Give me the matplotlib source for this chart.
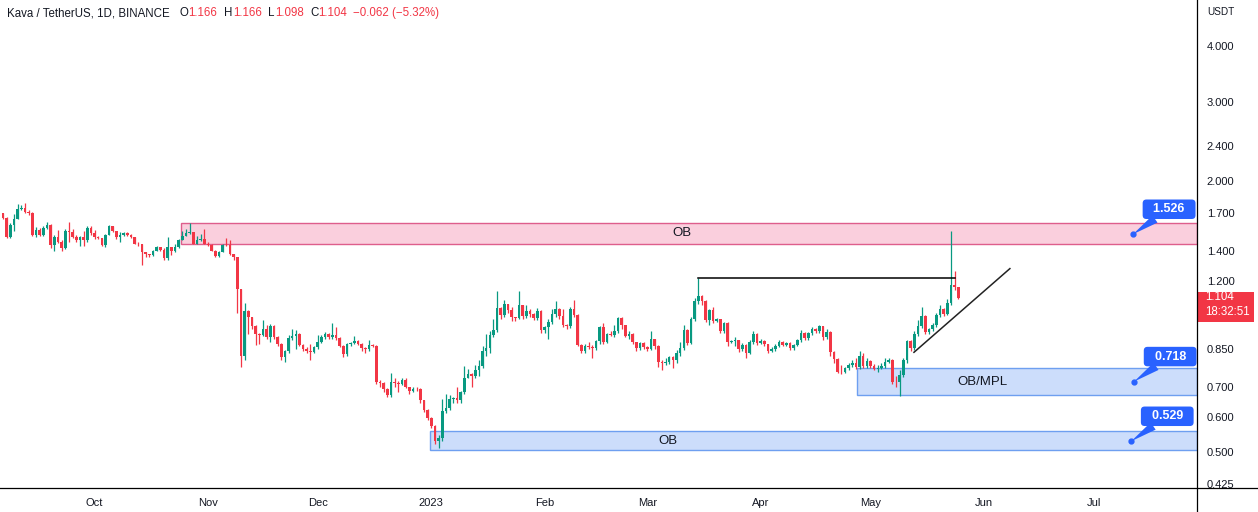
import numpy as np
import pandas as pd
import matplotlib
matplotlib.use("Agg")
import matplotlib.pyplot as plt
import matplotlib.dates as mdates
import matplotlib.transforms as mtransforms
from matplotlib.lines import Line2D
from matplotlib.patches import Rectangle
from matplotlib.ticker import NullLocator, NullFormatter

plt.rcParams['font.family'] = ['Liberation Sans', 'DejaVu Sans']

# --- daily KAVA/USDT candles ---
first_day = "2022-09-06"
first_open = 1.697
closes = [
    1.662, 1.508, 1.604, 1.654, 1.740, 1.745, 1.714, 1.705, 1.524, 1.563,
    1.524, 1.579, 1.604, 1.448, 1.501, 1.470, 1.419, 1.555, 1.540, 1.508,
    1.485, 1.508, 1.478, 1.579, 1.532, 1.501, 1.497, 1.441, 1.524, 1.588,
    1.548, 1.501, 1.524, 1.532, 1.524, 1.501, 1.455, 1.450, 1.390, 1.376,
    1.369, 1.404, 1.426, 1.411, 1.348, 1.426, 1.404, 1.433, 1.485, 1.516,
    1.532, 1.540, 1.455, 1.485, 1.493, 1.455, 1.448, 1.404, 1.362, 1.397,
    1.448, 1.441, 1.376, 1.355, 1.151, 0.817, 1.029, 0.997, 0.952, 0.914,
    0.909, 0.942, 0.900, 0.952, 0.900, 0.869, 0.813, 0.839, 0.896, 0.905,
    0.914, 0.865, 0.847, 0.839, 0.837, 0.856, 0.878, 0.900, 0.914, 0.900,
    0.909, 0.896, 0.860, 0.826, 0.869, 0.873, 0.882, 0.869, 0.851, 0.847,
    0.865, 0.860, 0.718, 0.711, 0.690, 0.669, 0.718, 0.711, 0.709, 0.722,
    0.700, 0.683, 0.693, 0.691, 0.652, 0.620, 0.595, 0.572, 0.530, 0.538,
    0.617, 0.626, 0.656, 0.659, 0.652, 0.680, 0.733, 0.745, 0.737, 0.760,
    0.776, 0.839, 0.851, 0.909, 0.933, 1.044, 1.008, 1.066, 1.034, 0.997,
    0.992, 1.060, 1.003, 1.029, 1.013, 0.992, 1.029, 0.933, 0.947, 0.972,
    1.013, 1.039, 1.003, 0.957, 0.952, 1.039, 1.008, 0.865, 0.839, 0.860,
    0.858, 0.851, 0.882, 0.947, 0.878, 0.914, 0.912, 0.928, 0.992, 0.957,
    0.905, 0.914, 0.878, 0.851, 0.873, 0.856, 0.847, 0.891, 0.860, 0.792,
    0.788, 0.792, 0.813, 0.800, 0.830, 0.851, 0.933, 0.873, 0.987, 1.082,
    1.110, 1.082, 0.982, 1.034, 0.977, 0.987, 0.928, 0.967, 0.878, 0.882,
    0.887, 0.847, 0.865, 0.830, 0.878, 0.914, 0.873, 0.882, 0.869, 0.839,
    0.847, 0.860, 0.878, 0.865, 0.873, 0.851, 0.865, 0.887, 0.919, 0.896,
    0.919, 0.938, 0.928, 0.952, 0.900, 0.923, 0.834, 0.804, 0.756, 0.754,
    0.768, 0.780, 0.788, 0.772, 0.817, 0.776, 0.796, 0.776, 0.764, 0.768,
    0.776, 0.792, 0.800, 0.718, 0.715, 0.741, 0.800, 0.882, 0.851, 0.914,
    0.952, 1.003, 0.923, 0.938, 0.957, 1.008, 1.039, 1.013, 1.071, 1.175,
    1.166, 1.104,
]
highs = [
    1.705, 1.668, 1.615, 1.690, 1.777, 1.775, 1.795, 1.730, 1.710, 1.585,
    1.575, 1.590, 1.625, 1.610, 1.520, 1.563, 1.480, 1.565, 1.628, 1.570,
    1.520, 1.515, 1.550, 1.595, 1.590, 1.560, 1.510, 1.500, 1.530, 1.600,
    1.595, 1.555, 1.540, 1.545, 1.540, 1.530, 1.505, 1.465, 1.455, 1.395,
    1.380, 1.410, 1.440, 1.430, 1.420, 1.501, 1.430, 1.450, 1.490, 1.548,
    1.570, 1.620, 1.545, 1.510, 1.530, 1.570, 1.465, 1.450, 1.410, 1.400,
    1.455, 1.500, 1.480, 1.380, 1.360, 1.151, 1.071, 1.035, 1.000, 0.960,
    0.920, 0.985, 0.960, 0.965, 0.960, 0.905, 0.875, 0.845, 0.910, 0.940,
    0.935, 0.920, 0.870, 0.855, 0.870, 0.860, 0.910, 0.910, 0.925, 0.920,
    0.970, 0.947, 0.900, 0.865, 0.875, 0.880, 0.905, 0.890, 0.875, 0.855,
    0.890, 0.870, 0.865, 0.725, 0.715, 0.695, 0.750, 0.730, 0.720, 0.730,
    0.730, 0.700, 0.700, 0.700, 0.695, 0.655, 0.625, 0.600, 0.575, 0.545,
    0.656, 0.675, 0.670, 0.665, 0.700, 0.685, 0.776, 0.765, 0.750, 0.780,
    0.800, 0.860, 0.914, 0.930, 0.990, 1.140, 1.050, 1.090, 1.070, 1.050,
    1.000, 1.139, 1.065, 1.060, 1.040, 1.020, 1.045, 1.035, 0.955, 0.990,
    1.040, 1.085, 1.045, 1.040, 0.965, 1.050, 1.090, 1.015, 0.870, 0.870,
    0.880, 0.865, 0.890, 0.955, 0.970, 0.920, 0.930, 0.960, 1.000, 1.000,
    0.960, 0.930, 0.920, 0.880, 0.880, 0.880, 0.860, 0.930, 0.895, 0.865,
    0.800, 0.810, 0.820, 0.820, 0.845, 0.880, 0.960, 0.940, 1.000, 1.100,
    1.217, 1.120, 1.090, 1.040, 1.050, 0.995, 0.990, 0.975, 0.975, 0.890,
    0.900, 0.890, 0.875, 0.870, 0.890, 0.930, 0.920, 0.895, 0.890, 0.870,
    0.855, 0.870, 0.890, 0.885, 0.880, 0.880, 0.870, 0.895, 0.935, 0.925,
    0.925, 0.950, 0.945, 0.960, 0.955, 0.940, 0.930, 0.840, 0.810, 0.780,
    0.775, 0.790, 0.800, 0.810, 0.839, 0.830, 0.810, 0.800, 0.785, 0.780,
    0.790, 0.810, 0.810, 0.805, 0.740, 0.760, 0.810, 0.890, 0.890, 0.930,
    0.985, 1.049, 1.010, 0.945, 0.970, 1.020, 1.060, 1.045, 1.093, 1.550,
    1.264, 1.166,
]
lows = [
    1.650, 1.500, 1.495, 1.550, 1.650, 1.725, 1.705, 1.680, 1.515, 1.505,
    1.515, 1.515, 1.570, 1.420, 1.404, 1.460, 1.400, 1.415, 1.470, 1.500,
    1.470, 1.440, 1.440, 1.470, 1.520, 1.490, 1.490, 1.435, 1.430, 1.520,
    1.540, 1.490, 1.465, 1.515, 1.515, 1.495, 1.450, 1.440, 1.307, 1.360,
    1.360, 1.365, 1.400, 1.400, 1.340, 1.340, 1.370, 1.395, 1.425, 1.480,
    1.510, 1.530, 1.450, 1.450, 1.475, 1.450, 1.440, 1.400, 1.355, 1.355,
    1.390, 1.435, 1.370, 1.340, 1.018, 0.772, 0.800, 0.914, 0.940, 0.865,
    0.870, 0.905, 0.895, 0.880, 0.895, 0.860, 0.800, 0.792, 0.830, 0.890,
    0.850, 0.860, 0.840, 0.830, 0.800, 0.830, 0.850, 0.875, 0.895, 0.895,
    0.895, 0.890, 0.855, 0.815, 0.820, 0.860, 0.870, 0.865, 0.840, 0.830,
    0.840, 0.855, 0.710, 0.700, 0.680, 0.665, 0.665, 0.700, 0.680, 0.705,
    0.695, 0.675, 0.680, 0.685, 0.645, 0.615, 0.590, 0.565, 0.522, 0.510,
    0.530, 0.610, 0.620, 0.645, 0.645, 0.645, 0.675, 0.730, 0.700, 0.730,
    0.740, 0.770, 0.820, 0.830, 0.900, 0.925, 0.990, 1.000, 1.020, 0.980,
    0.980, 0.990, 0.990, 0.995, 1.000, 0.985, 0.985, 0.920, 0.920, 0.891,
    0.965, 1.000, 0.990, 0.950, 0.940, 0.945, 1.000, 0.860, 0.830, 0.830,
    0.850, 0.810, 0.845, 0.870, 0.870, 0.875, 0.905, 0.900, 0.920, 0.940,
    0.900, 0.895, 0.870, 0.840, 0.845, 0.850, 0.840, 0.845, 0.850, 0.775,
    0.760, 0.780, 0.785, 0.770, 0.790, 0.820, 0.845, 0.865, 0.870, 0.980,
    1.070, 1.060, 0.975, 0.960, 0.970, 0.975, 0.920, 0.920, 0.860, 0.875,
    0.860, 0.835, 0.840, 0.810, 0.825, 0.870, 0.865, 0.870, 0.860, 0.830,
    0.835, 0.840, 0.855, 0.860, 0.860, 0.845, 0.845, 0.860, 0.880, 0.890,
    0.890, 0.910, 0.920, 0.920, 0.890, 0.895, 0.820, 0.790, 0.750, 0.745,
    0.750, 0.760, 0.775, 0.765, 0.765, 0.770, 0.770, 0.770, 0.760, 0.755,
    0.765, 0.770, 0.790, 0.710, 0.700, 0.666, 0.735, 0.790, 0.840, 0.845,
    0.905, 0.945, 0.915, 0.915, 0.930, 0.950, 1.000, 1.005, 1.010, 1.065,
    1.150, 1.098,
]

# drawings
zones = [  # start, low, high, label, label date, style
    ("2022-10-24 14:00", 1.455, 1.616, "OB", "2023-03-10 12:00", "pink"),
    ("2023-04-27 08:00", 0.669, 0.768, "OB/MPL", "2023-05-31 12:00", "blue"),
    ("2022-12-31 14:00", 0.505, 0.557, "OB", "2023-03-06 17:00", "blue"),
]
hline = ("2023-03-15", "2023-05-24 02:00", 1.217)
trend = (("2023-05-12 21:00", 0.834), ("2023-06-08 02:00", 1.28))
callouts = [("2023-07-11 17:00", 1.526), ("2023-07-12 00:00", 0.718), ("2023-07-11 05:00", 0.529)]

yticks = [4.0, 3.0, 2.4, 2.0, 1.7, 1.4, 1.2, 0.85, 0.7, 0.6, 0.5, 0.425]
month_ticks = ["2022-10-01", "2022-11-01", "2022-12-01", "2023-01-01", "2023-02-01",
               "2023-03-01", "2023-04-01", "2023-05-01", "2023-06-01", "2023-07-01"]
month_labels = ["Oct", "Nov", "Dec", "2023", "Feb", "Mar", "Apr", "May", "Jun", "Jul"]

GREEN = "#089981"
RED = "#F23645"
TEXT = "#131722"
BLUE = "#2962FF"
ZONE_STYLE = {"pink": ("#FACFDD", "#DE5E8C"), "blue": ("#CCDDFB", "#6E9FF0")}

W, H = 1258, 512
fig = plt.figure(figsize=(W / 100, H / 100), dpi=100)
ax = fig.add_axes([0, 24 / H, 1197 / W, 488 / H])

x = mdates.date2num(pd.date_range(first_day, periods=len(closes)))
c = np.array(closes)
o = np.array([first_open] + closes[:-1])
hi = np.array(highs)
lo = np.array(lows)
cols = np.where(c >= o, GREEN, RED)

ax.set_yscale("log")
ax.set_ylim(0.4165, 5.06)
ax.set_xlim(x[0] - 0.82, x[0] + 326.2)
xmax = ax.get_xlim()[1]

for start, zlo, zhi, lab, labdate, kind in zones:
    fc, ec = ZONE_STYLE[kind]
    s = mdates.datestr2num(start)
    ax.add_patch(Rectangle((s, zlo), xmax - s, zhi - zlo, facecolor=fc,
                           edgecolor=ec, lw=1.0, zorder=1))
    ax.text(mdates.datestr2num(labdate), np.sqrt(zlo * zhi), lab, ha="center",
            va="center", fontsize=9.5, color=TEXT, zorder=5)

ax.vlines(x, lo, hi, colors=cols, lw=0.9, zorder=2)
ax.bar(x, np.abs(c - o), bottom=np.minimum(o, c), width=0.72, color=cols,
       linewidth=0, zorder=3)

ax.plot([mdates.datestr2num(hline[0]), mdates.datestr2num(hline[1])],
        [hline[2], hline[2]], color="black", lw=1.1, zorder=4)
ax.plot([mdates.datestr2num(trend[0][0]), mdates.datestr2num(trend[1][0])],
        [trend[0][1], trend[1][1]], color="#222222", lw=1.1, zorder=4)

for d, p in callouts:
    dx = mdates.datestr2num(d)
    ax.annotate(f"  {p:.3f}  ", xy=(dx, p), xytext=(26, 18), textcoords="offset points",
                ha="center", va="center", color="white", fontsize=9, fontweight="bold",
                bbox=dict(boxstyle="round,pad=0.3,rounding_size=0.3", fc=BLUE, ec="none"),
                arrowprops=dict(arrowstyle="wedge,tail_width=0.7", fc=BLUE, ec="none",
                                shrinkA=0, shrinkB=0),
                annotation_clip=False, zorder=6)
    ax.plot(dx, p, "o", ms=3.5, color=BLUE, zorder=7)

for sp in ax.spines.values():
    sp.set_visible(False)
ax.yaxis.tick_right()
ax.set_yticks(yticks)
ax.set_yticklabels([f"{v:.3f}" for v in yticks])
ax.yaxis.set_minor_locator(NullLocator())
ax.yaxis.set_minor_formatter(NullFormatter())
ax.tick_params(axis="y", length=0, pad=7, labelsize=8, labelcolor=TEXT)
ax.set_xticks([mdates.datestr2num(m) for m in month_ticks])
ax.set_xticklabels(month_labels)
ax.tick_params(axis="x", length=0, pad=7, labelsize=8, labelcolor=TEXT)

# axis borders spanning the whole canvas
fig.add_artist(Line2D([0, 1], [24 / H, 24 / H], color="black", lw=0.9))
fig.add_artist(Line2D([1197 / W, 1197 / W], [0, 1], color="black", lw=0.9))

fig.text(1207 / W, 1 - 12 / H, "USDT", fontsize=7.2, color=TEXT, va="center")

# header
chg = c[-1] - c[-2]
pct = chg / c[-2] * 100
header = [("Kava / TetherUS, 1D, BINANCE", 7, TEXT), ("O", 180, TEXT),
          (f"{o[-1]:.3f}", 188, RED), ("H", 224, TEXT), (f"{hi[-1]:.3f}", 233, RED),
          ("L", 268, TEXT), (f"{lo[-1]:.3f}", 275, RED), ("C", 310, TEXT),
          (f"{c[-1]:.3f}", 318, RED),
          (f"\u2212{abs(chg):.3f} (\u2212{abs(pct):.2f}%)", 353, RED)]
for s, px, col in header:
    fig.text(px / W, 1 - 13 / H, s, fontsize=8.3, color=col, va="center", ha="left")

# last price tag
fig.canvas.draw()
ypx = ax.transData.transform((xmax, c[-1]))[1]
fig.add_artist(Rectangle((1197, ypx - 24), 57, 30, transform=mtransforms.IdentityTransform(),
                         facecolor=RED, edgecolor="none"))
fig.text(1205 / W, (ypx + 0.5) / H, f"{c[-1]:.3f}", fontsize=8.3, color="white", va="center")
fig.text(1205 / W, (ypx - 14) / H, "18:32:51", fontsize=8.3, color="white", va="center")

fig.savefig("out.png", dpi=100, facecolor="white")
